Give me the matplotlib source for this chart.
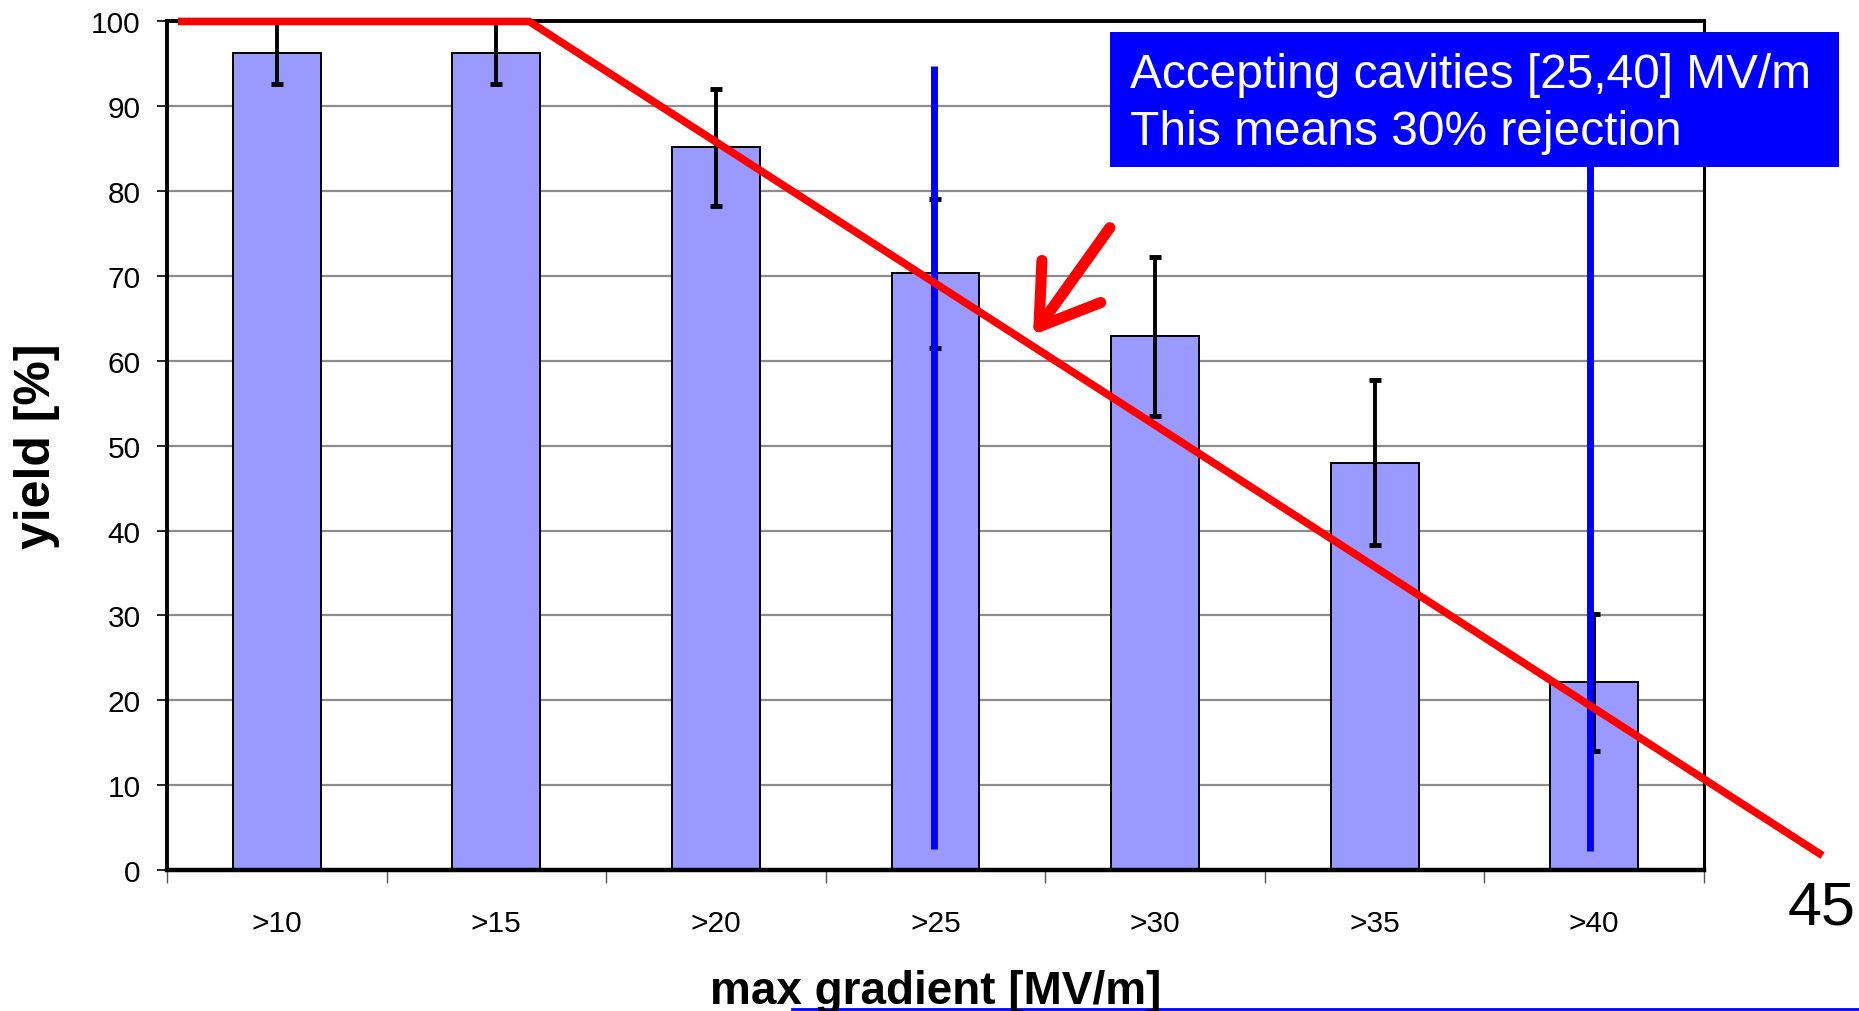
import matplotlib.pyplot as plt
import matplotlib.lines as mlines
import matplotlib.patches as mpatches
import numpy as np

plt.rcParams['font.family'] = ['Liberation Sans', 'DejaVu Sans']

# data
categories = ['>10', '>15', '>20', '>25', '>30', '>35', '>40']
yields = [96.3, 96.3, 85.2, 70.3, 62.9, 48.0, 22.1]
errors = [3.7, 3.7, 6.9, 8.8, 9.4, 9.7, 8.1]

# red guide line (x in category units, y in %)
guide_x = [0.05, 1.65, 7.54]
guide_y = [100, 100, 1.7]

# blue markers at >25 and >40
marker_x = [3.495, 6.48]
marker_y0 = [2.5, 2.2]
marker_y1 = [94.8, 90]

fig = plt.figure(figsize=(18.59, 10.12), dpi=100)
ax = fig.add_axes([0.0898, 0.1393, 0.8268, 0.8385])

X = np.arange(len(categories)) + 0.5
ax.set_axisbelow(True)
ax.yaxis.grid(True, color='#8c8c8c', lw=1.6)
ax.bar(X, yields, width=0.4, facecolor='#9999ff', edgecolor='black', lw=1.4, zorder=2)
ax.errorbar(X, yields, yerr=errors, fmt='none', ecolor='black', elinewidth=2.8,
            capsize=4.5, capthick=3.5, zorder=3)

for x, y0, y1 in zip(marker_x, marker_y0, marker_y1):
    ax.plot([x, x], [y0, y1], color='#0000ff', lw=5, zorder=4, clip_on=False,
            solid_capstyle='butt')

ax.plot(guide_x, guide_y, color='#ff0000', lw=5.5, zorder=5, clip_on=False,
        solid_capstyle='butt')

ax.set_xlim(0, 7)
ax.set_ylim(0, 100)
ax.set_yticks(np.arange(0, 101, 10))
ax.set_xticks(np.arange(0, 8))
ax.set_xticklabels([])
ax.set_xticks(X, minor=True)
ax.set_xticklabels(categories, minor=True)
ax.tick_params(axis='x', which='major', length=9, width=1.0, color='#555555', direction='out')
ax.tick_params(axis='x', which='minor', length=0, pad=28, labelsize=21.5)
ax.tick_params(axis='y', length=7, width=1.2, pad=12, labelsize=21.5)

for side, w in [('left', 2.8), ('top', 2.8), ('bottom', 3.2), ('right', 2.2)]:
    ax.spines[side].set_linewidth(w)

ax.set_ylabel('yield [%]', fontsize=36, fontweight='bold', labelpad=22)
fig.text(0.5035, 0.008, 'max gradient [MV/m]', fontsize=33, fontweight='bold',
         ha='center', va='baseline')
fig.add_artist(mlines.Line2D([0.426, 1.0], [0.002, 0.002], color='#0000ff', lw=2))

# annotation box
fig.add_artist(mpatches.Rectangle((0.597, 0.834), 0.392, 0.133, transform=fig.transFigure,
                                  facecolor='#0000ff', edgecolor='none', zorder=6))
fig.text(0.6078, 0.925, 'Accepting cavities [25,40] MV/m', color='white', fontsize=34.5,
         ha='left', va='center', zorder=7)
fig.text(0.6078, 0.869, 'This means 30% rejection', color='white', fontsize=34.5,
         ha='left', va='center', zorder=7)

# red arrow
fig.add_artist(mpatches.FancyArrowPatch((0.597, 0.774), (0.5557, 0.668), transform=fig.transFigure,
                                        arrowstyle='->, head_length=1.0, head_width=0.65',
                                        mutation_scale=40, color='#ff0000', lw=8,
                                        shrinkA=0, shrinkB=0,
                                        capstyle='round', joinstyle='round', zorder=6))

fig.text(0.980, 0.1018, '45', fontsize=44, ha='center', va='center')

fig.savefig('out.png', dpi=100)
